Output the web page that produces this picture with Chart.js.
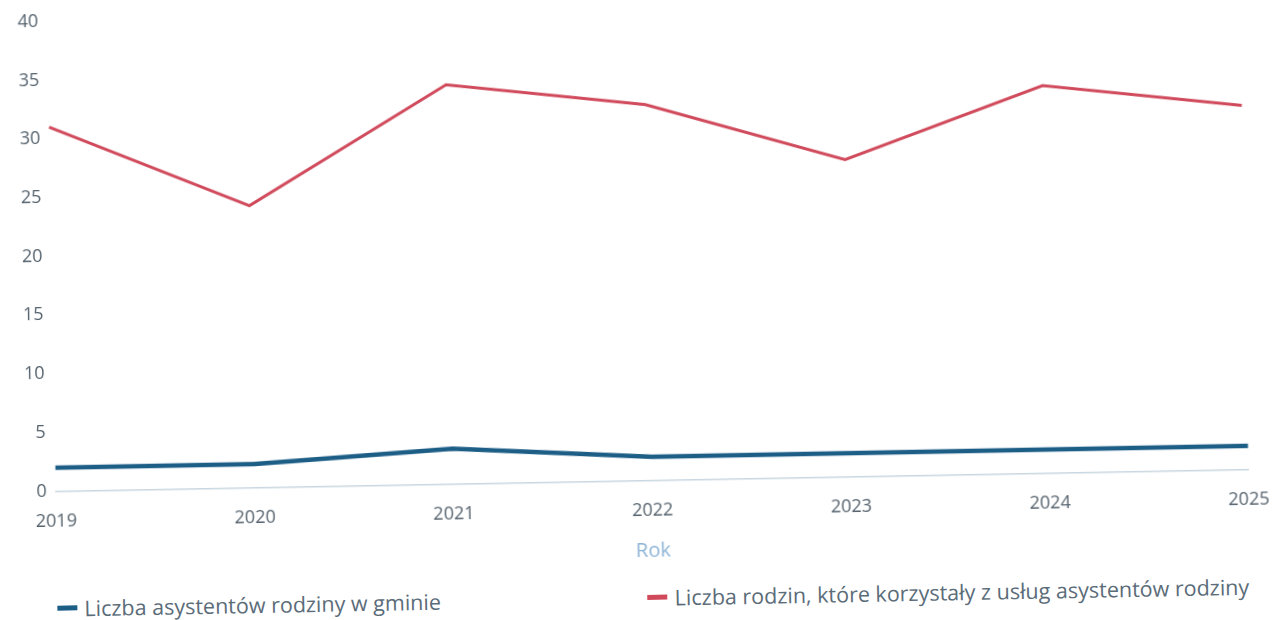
<!DOCTYPE html>
<html lang="pl">
<head>
<meta charset="utf-8">
<title>Asystenci rodziny</title>
<script src="https://cdn.jsdelivr.net/npm/chart.js@4"></script>
<style>
  html, body { margin: 0; padding: 0; background: #fff; }
  body { width: 1278px; height: 620px; overflow: hidden; font-family: "Open Sans", sans-serif; }
  #page { position: relative; width: 1278px; height: 620px; transform: rotate(-1.05deg); transform-origin: 50% 50%; }
  #wrap { position: absolute; left: 0; top: -1px; width: 1278px; height: 564px; }
  #legend { position: absolute; left: 52px; right: 34px; top: 583px; display: flex; justify-content: space-between; font-size: 21.5px; color: #5b6c79; }
  .item { display: flex; align-items: center; white-space: nowrap; }
  .swatch { width: 20px; height: 5px; margin-right: 7px; }
</style>
</head>
<body>
<div id="page">
  <div id="wrap"><canvas id="chart"></canvas></div>
  <div id="legend"></div>
</div>
<script>
const lata = ['2019', '2020', '2021', '2022', '2023', '2024', '2025'];
const asystenci = [2, 2, 3, 2, 2, 2, 2];
const rodziny = [31, 24, 34, 32, 27, 33, 31];

const seria = [
  { label: 'Liczba asystentów rodziny w gminie', data: asystenci, color: '#1d5e86', width: 4.5 },
  { label: 'Liczba rodzin, które korzystały z usług asystentów rodziny', data: rodziny, color: '#d04a5c', width: 3 }
];

const tickColor = '#56636e';

new Chart(document.getElementById('chart').getContext('2d'), {
  type: 'line',
  data: {
    labels: lata,
    datasets: seria.map((s) => ({
      label: s.label,
      data: s.data,
      borderColor: s.color,
      backgroundColor: s.color,
      borderWidth: s.width,
      pointRadius: 0,
      tension: 0,
      fill: false
    }))
  },
  options: {
    responsive: true,
    maintainAspectRatio: false,
    animation: false,
    layout: { padding: { left: 22, right: 18, top: 0, bottom: 0 } },
    plugins: {
      legend: { display: false },
      tooltip: { enabled: false }
    },
    scales: {
      x: {
        grid: { display: false },
        border: { display: true, color: '#c9d7e1', width: 1.5 },
        ticks: { color: tickColor, font: { family: 'Open Sans', size: 18 }, padding: 12, maxRotation: 0 },
        title: { display: true, text: 'Rok', color: '#8db4d6', font: { family: 'Open Sans', size: 20 }, padding: { top: 5, bottom: 0 } }
      },
      y: {
        min: 0,
        max: 40,
        grid: { display: false },
        border: { display: false },
        ticks: { stepSize: 5, color: tickColor, font: { family: 'Open Sans', size: 18 }, padding: 1 }
      }
    }
  }
});

const legend = document.getElementById('legend');
seria.forEach((s) => {
  const item = document.createElement('div');
  item.className = 'item';
  const sw = document.createElement('span');
  sw.className = 'swatch';
  sw.style.background = s.color;
  const txt = document.createElement('span');
  txt.textContent = s.label;
  item.appendChild(sw);
  item.appendChild(txt);
  legend.appendChild(item);
});
</script>
</body>
</html>
